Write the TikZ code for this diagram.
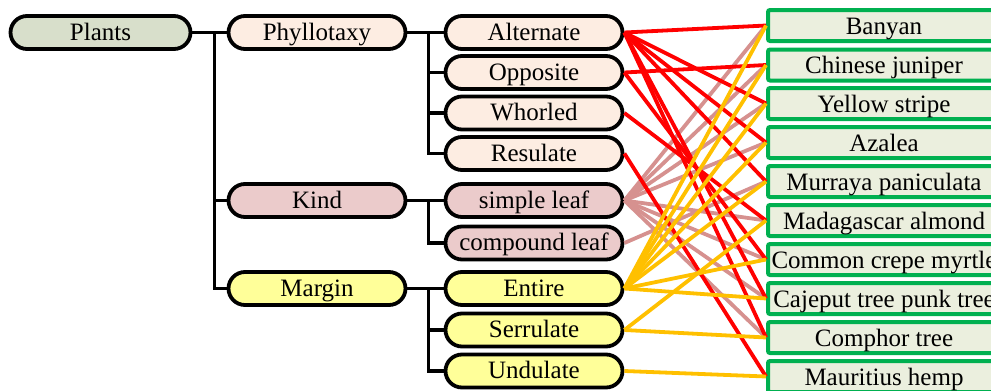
\documentclass[tikz,border=0pt]{standalone}
\usepackage{fontspec}
\setmainfont{Liberation Serif}
\definecolor{plantsfill}{RGB}{216,223,203}
\definecolor{peach}{RGB}{253,237,226}
\definecolor{kindfill}{RGB}{235,203,203}
\definecolor{marginfill}{RGB}{255,255,153}
\definecolor{rboxfill}{RGB}{235,239,222}
\definecolor{rboxgreen}{RGB}{0,176,80}
\definecolor{linkred}{RGB}{255,0,0}
\definecolor{linkpink}{RGB}{214,145,143}
\definecolor{linkyellow}{RGB}{255,192,0}
\begin{document}
\begin{tikzpicture}[x=1pt,y=-1pt,
  pill/.style={draw=black, line width=3.8pt, rounded corners=16.5pt,
    minimum width=177pt, minimum height=33pt, inner sep=0pt,
    text height=20pt, text depth=5pt, font=\fontsize{25}{28}\selectfont},
  rbox/.style={draw=rboxgreen, line width=4pt, rounded corners=2pt, fill=rboxfill,
    minimum width=232pt, minimum height=31pt, inner sep=0pt,
    text height=21pt, text depth=4pt, font=\fontsize{25}{28}\selectfont},
  tree/.style={draw=black, line width=3.8pt},
  lred/.style={draw=linkred, line width=3.8pt},
  lpink/.style={draw=linkpink, line width=3.8pt},
  lyel/.style={draw=linkyellow, line width=3.8pt}]
\useasboundingbox (0,0) rectangle (991,391);
\clip (0,0) rectangle (991,391);

% left and middle columns
\node[pill, fill=plantsfill, minimum width=180pt] (P) at (100.5,32.5) {Plants};
\node[pill, fill=peach] (Ph) at (317,32.5) {Phyllotaxy};
\node[pill, fill=kindfill] (K) at (317,200.5) {Kind};
\node[pill, fill=marginfill] (M) at (317,288.5) {Margin};

\node[pill, fill=peach] (Al) at (534,32.5) {Alternate};
\node[pill, fill=peach] (Op) at (534,72.5) {Opposite};
\node[pill, fill=peach] (Wh) at (534,113) {Whorled};
\node[pill, fill=peach] (Re) at (534,153.5) {Resulate};
\node[pill, fill=kindfill] (Si) at (534,200.5) {simple leaf};
\node[pill, fill=kindfill] (Co) at (534,243) {compound leaf};
\node[pill, fill=marginfill] (En) at (534,288.5) {Entire};
\node[pill, fill=marginfill] (Se) at (534,330) {Serrulate};
\node[pill, fill=marginfill] (Un) at (534,371) {Undulate};

% right column
\node[rbox] (B1) at (884,25.5) {Banyan};
\node[rbox] (B2) at (884,65) {Chinese juniper};
\node[rbox] (B3) at (884,103.5) {Yellow stripe};
\node[rbox] (B4) at (884,142.5) {Azalea};
\node[rbox] (B5) at (884,181.5) {Murraya paniculata};
\node[rbox] (B6) at (884,220.5) {Madagascar almond};
\node[rbox] (B7) at (884,259.5) {Common crepe myrtle};
\node[rbox] (B8) at (884,298.5) {Cajeput tree punk tree};
\node[rbox] (B9) at (884,337.5) {Comphor tree};
\node[rbox] (B10) at (884,376.5) {Mauritius hemp};

% tree connectors
\draw[tree] (P.east) -- ++(22,0) coordinate (j1);
\draw[tree] (j1) -- (Ph.west);
\draw[tree] (j1) |- (K.west);
\draw[tree] (j1) |- (M.west);

\draw[tree] (Ph.east) -- ++(21,0) coordinate (j2);
\draw[tree] (j2) -- (Al.west);
\draw[tree] (j2) |- (Op.west);
\draw[tree] (j2) |- (Wh.west);
\draw[tree] (j2) |- (Re.west);

\draw[tree] (K.east) -- ++(21,0) coordinate (j3);
\draw[tree] (j3) -- (Si.west);
\draw[tree] (j3) |- (Co.west);

\draw[tree] (M.east) -- ++(21,0) coordinate (j4);
\draw[tree] (j4) -- (En.west);
\draw[tree] (j4) |- (Se.west);
\draw[tree] (j4) |- (Un.west);

% kind links
\foreach \t in {B1,B2,B3,B4,B6,B7,B8,B9} \draw[lpink] (Si.east) -- (\t.west);
\draw[lpink] (Co.east) -- (B5.west);

% phyllotaxy links
\foreach \t in {B1,B3,B4,B5,B8,B9} \draw[lred] (Al.east) -- (\t.west);
\foreach \t in {B2,B7} \draw[lred] (Op.east) -- (\t.west);
\draw[lred] (Wh.east) -- (B6.west);
\draw[lred] (Re.east) -- (B10.west);

% margin links
\foreach \t in {B1,B2,B3,B4,B5,B7,B8} \draw[lyel] (En.east) -- (\t.west);
\foreach \t in {B6,B9} \draw[lyel] (Se.east) -- (\t.west);
\draw[lyel] (Un.east) -- (B10.west);
\end{tikzpicture}
\end{document}
